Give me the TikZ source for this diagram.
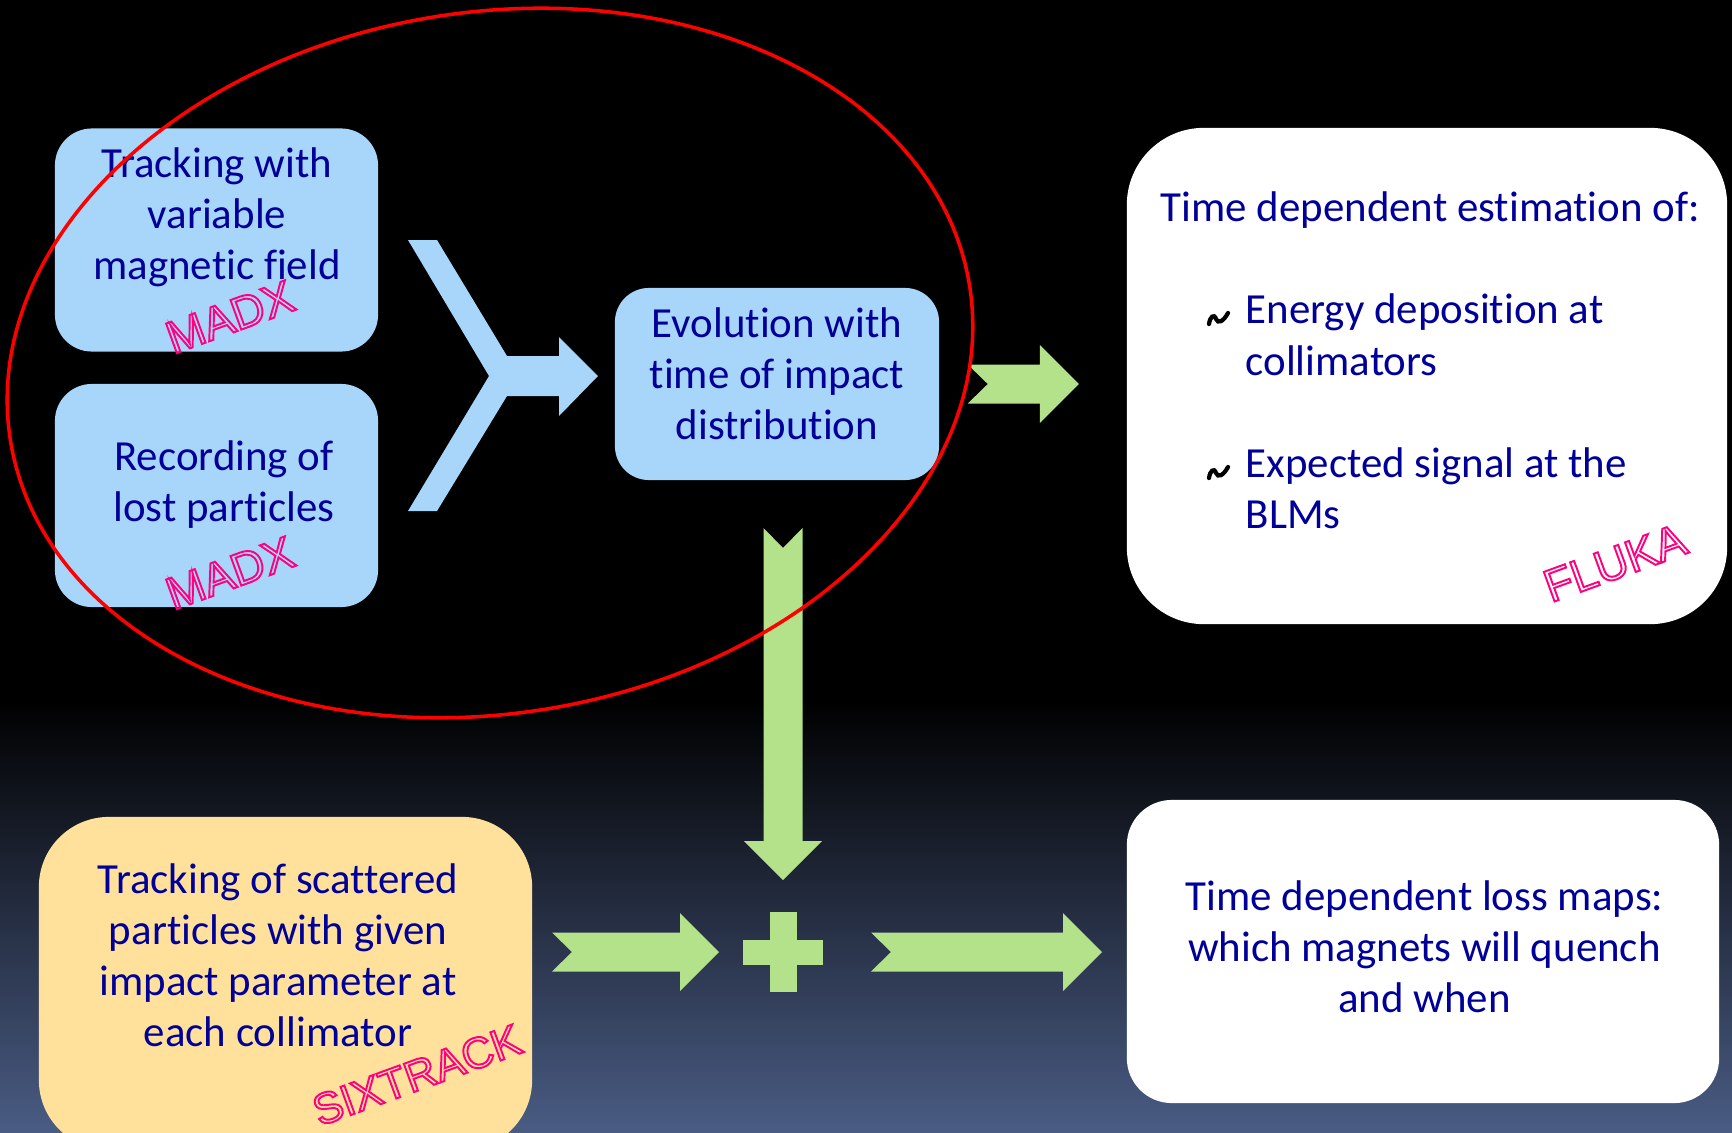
\documentclass[tikz,border=0pt]{standalone}
\usepackage{fontspec}
\setmainfont{Carlito}[Ligatures=NoCommon]
\newfontfamily\toolfont{Liberation Sans}
\usetikzlibrary{calc}
\definecolor{boxblue}{RGB}{168,214,251}
\definecolor{boxyellow}{RGB}{255,225,155}
\definecolor{textblue}{RGB}{0,0,153}
\definecolor{arrowgreen}{RGB}{179,226,139}
\definecolor{toolpink}{RGB}{255,0,128}
\definecolor{bgbottom}{RGB}{74,92,132}
\newcommand\toolname[1]{\special{pdf:literal direct 1 Tr 0.55 w}#1\special{pdf:literal direct 0 Tr}}
\begin{document}
\begin{tikzpicture}[x=0.01cm,y=-0.01cm,
		box/.style={rectangle,rounded corners=0.37cm,fill=boxblue,inner sep=0pt},
		whitebox/.style={rectangle,fill=white,inner sep=0pt},
		boxtext/.style={align=center,inner sep=0pt,text=textblue,font=\fontsize{12.2pt}{14.5pt}\selectfont},
		tool/.style={inner sep=0pt,rotate=20,text=toolpink,font=\toolfont\fontsize{13pt}{13pt}\selectfont},
		pics/blockarrow/.style={code={
			\fill[arrowgreen] (0,-19.5) -- (#1-39,-19.5) -- (#1-39,-39) -- (#1,0) -- (#1-39,39) -- (#1-39,19.5) -- (0,19.5) -- (20,0) -- cycle;
		}}]
	% background
	\useasboundingbox (0,0) rectangle (1732,1133);
	\fill[black] (0,0) rectangle (1732,1133);
	\shade[top color=black,bottom color=bgbottom] (0,700) rectangle (1732,1133);

	% boxes
	\node[box,minimum width=3.23cm,minimum height=2.23cm] (track) at (216.5,240) {};
	\node[box,minimum width=3.23cm,minimum height=2.23cm] (lost) at (216.5,495.5) {};
	\node[box,minimum width=3.24cm,minimum height=1.92cm,rounded corners=0.34cm] (evo) at (777,384) {};
	\node[box,fill=boxyellow,minimum width=4.93cm,minimum height=3.33cm,rounded corners=0.7cm] (six) at (285.5,983.5) {};
	\node[whitebox,minimum width=6cm,minimum height=4.96cm,rounded corners=0.77cm] (fluka) at (1427,376) {};
	\node[whitebox,minimum width=5.92cm,minimum height=3.03cm,rounded corners=0.45cm] (loss) at (1423,951.5) {};

	% texts
	\node[boxtext] (tracktxt) at (217,217.5) {Tracking with\\variable\\magnetic field};
	\node[boxtext] (losttxt) at (224,485) {Recording of\\lost particles};
	\node[boxtext] (evotxt) at (777,374) {Evolution with\\time of impact\\distribution};
	\node[boxtext] (sixtxt) at (278,955) {Tracking of scattered\\particles with given\\impact parameter at\\each collimator};
	\node[boxtext] (losstxt) at (1424.5,947) {Time dependent loss maps:\\which magnets will quench\\and when};
	\node[boxtext,anchor=base west] (flukatitle) at (1160,221) {Time dependent estimation of:};
	\node[boxtext,anchor=base west] (item1a) at (1245,323) {Energy deposition at};
	\node[boxtext,anchor=base west] (item1b) at (1245,375) {collimators};
	\node[boxtext,anchor=base west] (item2a) at (1245,477) {Expected signal at the};
	\node[boxtext,anchor=base west] (item2b) at (1245,528) {BLMs};
	\foreach \y in {323,477}
		\draw[line width=1.2pt,line cap=round] (1209,\y+1) .. controls (1210,\y-6) and (1214,\y-10) .. (1216,\y-4) .. controls (1218,\y+1) and (1223,\y-1) .. (1228,\y-10);

	% arrows
	\fill[boxblue] (408,240) -- (437,240) -- (507,356) -- (559,356) -- (559,337) -- (598,376)
		-- (559,416) -- (559,396) -- (507,396) -- (437,511) -- (408,511) -- (489,376) -- cycle;
	\pic at ($(evo.east)+(28,0)$) {blockarrow=111};
	\pic[rotate=-90] at (783,528) {blockarrow=352};
	\pic at (552,952) {blockarrow=167};
	\pic at (871,952) {blockarrow=231};
	\fill[arrowgreen] (770,912) rectangle (797,992);
	\fill[arrowgreen] (743,939.5) rectangle (823,964.5);

	% tools
	\node[tool] (madx1) at (230,317) {\toolname{MADX}};
	\node[tool] (madx2) at (230,573) {\toolname{MADX}};
	\node[tool] (flukatool) at (1615,563) {\toolname{FLUKA}};
	\node[tool,font=\toolfont\fontsize{12.4pt}{12.4pt}\selectfont] (sixtool) at (417,1075) {\toolname{SIXTRACK}};

	\draw[red,line width=1pt,rotate around={9.24:(490,363)}] (490,363) ellipse [x radius=4.855cm,y radius=3.504cm];
\end{tikzpicture}
\end{document}
